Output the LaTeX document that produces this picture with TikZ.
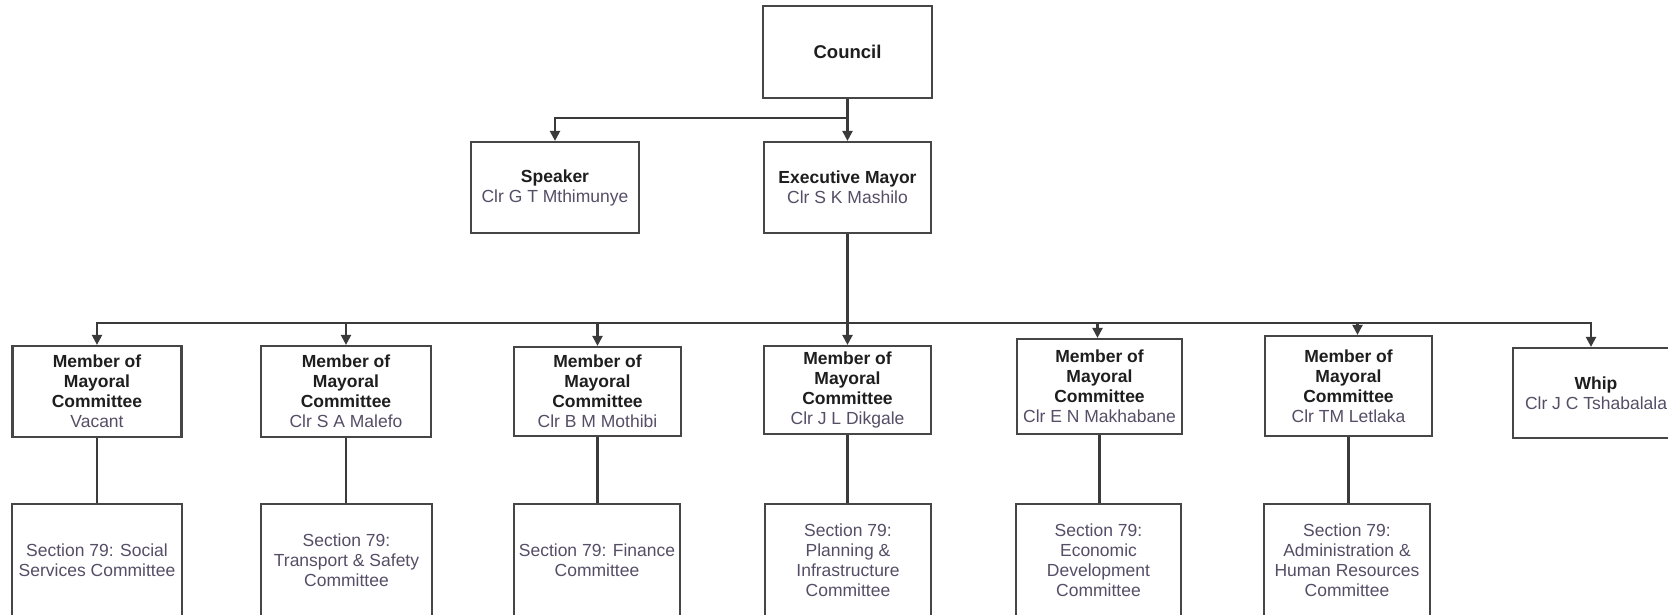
\documentclass[tikz,border=0pt]{standalone}
\usepackage{fontspec}
\setmainfont{Liberation Sans}
\usetikzlibrary{arrows.meta}

\definecolor{linecol}{RGB}{58,58,58}
\definecolor{boxcol}{RGB}{70,70,70}
\definecolor{titlecol}{RGB}{30,30,30}
\definecolor{namecol}{RGB}{86,78,102}

\tikzset{
  orgbox/.style={draw=boxcol, line width=2.2pt, fill=white, inner sep=0pt,
    align=center, text=namecol, font=\fontsize{17.5}{20}\selectfont},
  sectbox/.style={orgbox, minimum height=112pt},
  link/.style={draw=linecol, line width=2.2pt},
  arrowlink/.style={link, -{Triangle[width=10pt,length=10pt]}},
}
\newcommand{\ttl}[1]{{\bfseries\color{titlecol}#1}}
\newcommand{\mmc}{\ttl{Member of}\\\ttl{Mayoral}\\\ttl{Committee}}

\begin{document}
\begin{tikzpicture}[x=1pt, y=-1pt]
\useasboundingbox (0,0) rectangle (1668,614);
\clip (0,0) rectangle (1668,614);
\fill[white] (0,0) rectangle (1668,614);

% top levels
\node[orgbox, minimum width=169pt, minimum height=92pt] (council) at (847.5,52)
  {\ttl{\fontsize{18.5}{20}\selectfont Council}};
\node[orgbox, minimum width=168pt, minimum height=91pt] (speaker) at (555,187.5)
  {\ttl{Speaker}\\Clr G T Mthimunye};
\node[orgbox, minimum width=167pt, minimum height=91pt] (mayor) at (847.5,187.5)
  {\ttl{Executive Mayor}\\Clr S K Mashilo};

% mayoral committee members and whip
\node[orgbox, minimum width=169pt, minimum height=91pt] (m1) at (97,391.5)
  {\mmc\\Vacant};
\node[orgbox, minimum width=170pt, minimum height=91pt] (m2) at (346,391.5)
  {\mmc\\Clr S A Malefo};
\node[orgbox, minimum width=167pt, minimum height=89pt] (m3) at (597.5,391.5)
  {\mmc\\Clr B M Mothibi};
\node[orgbox, minimum width=167pt, minimum height=88pt] (m4) at (847.5,390)
  {\mmc\\Clr J L Dikgale};
\node[orgbox, minimum width=165pt, minimum height=95pt] (m5) at (1099.5,386.5)
  {\mmc\\Clr E N Makhabane};
\node[orgbox, minimum width=167pt, minimum height=100pt] (m6) at (1348.5,386)
  {\mmc\\Clr TM Letlaka};
\node[orgbox, minimum width=166pt, minimum height=90pt] (whip) at (1596,393)
  {\ttl{Whip}\\Clr J C Tshabalala};

% section 79 committees
\node[sectbox, minimum width=170pt] (s1) at (97,560)
  {Section 79: Social\\Services Committee};
\node[sectbox, minimum width=171pt] (s2) at (346.5,560)
  {Section 79:\\Transport \& Safety\\Committee};
\node[sectbox, minimum width=166pt] (s3) at (597,560)
  {Section 79: Finance\\Committee};
\node[sectbox, minimum width=166pt] (s4) at (848,560)
  {Section 79:\\Planning \&\\Infrastructure\\Committee};
\node[sectbox, minimum width=165pt] (s5) at (1098.5,560)
  {Section 79:\\Economic\\Development\\Committee};
\node[sectbox, minimum width=166pt] (s6) at (1347,560)
  {Section 79:\\Administration \&\\Human Resources\\Committee};

% connectors
\coordinate (j1) at (847.5,118);
\coordinate (j2) at (847.5,323);
\draw[link] (council.south) -- (j1);
\draw[arrowlink] (j1) -| (speaker.north);
\draw[arrowlink] (j1) -- (mayor.north);

\draw[link] (mayor.south) -- (j2);
\draw[arrowlink] (j2) -| (m1.north);
\draw[arrowlink] (j2) -| (m2.north);
\draw[arrowlink] (j2) -| (m3.north);
\draw[arrowlink] (j2) -- (m4.north);
\draw[arrowlink] (j2) -| ([xshift=-2pt]m5.north);
\draw[arrowlink] (j2) -| ([xshift=9pt]m6.north);
\draw[arrowlink] (j2) -| ([xshift=-5pt]whip.north);

\foreach \i in {1,...,6}
  \draw[link] (m\i.south) -- (m\i.south |- s\i.north);
\end{tikzpicture}
\end{document}
